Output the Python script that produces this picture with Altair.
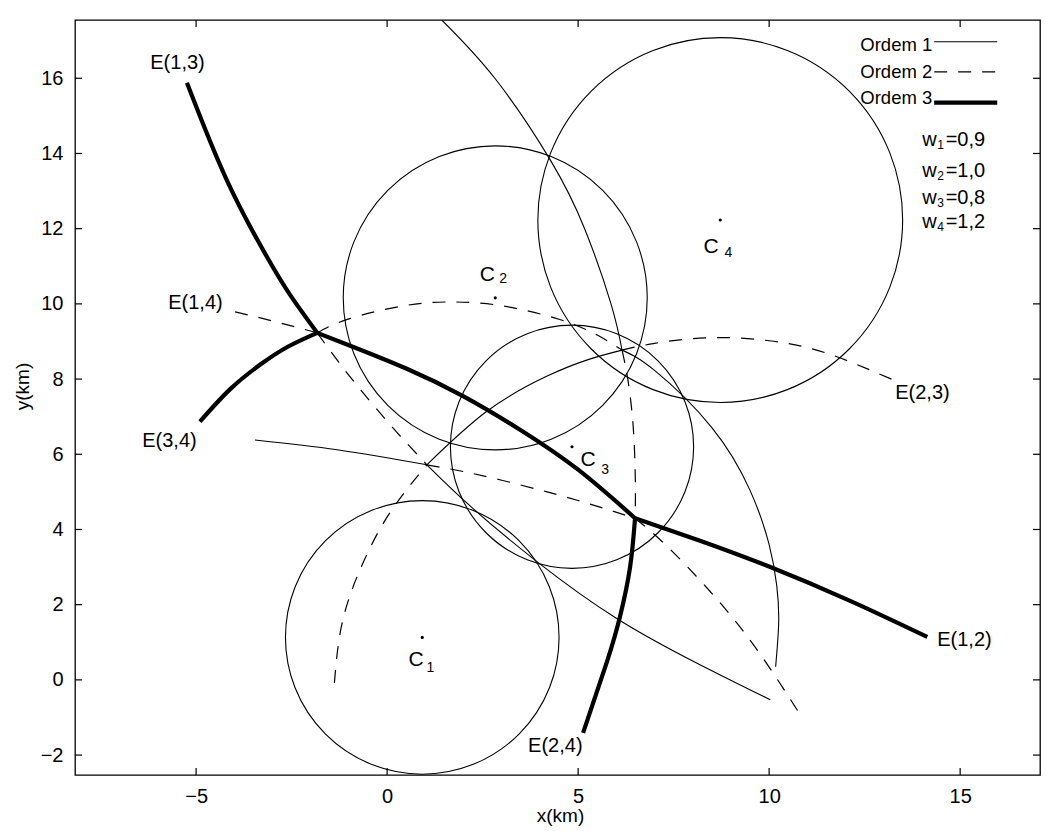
import altair as alt
import pandas as pd

FONT = "Liberation Sans"

# ---------------- data ----------------
centre_x = [0.92, 2.83, 4.84, 8.72]
centre_y = [1.13, 10.16, 6.20, 12.23]
circle_r = [3.6, 4.0, 3.2, 4.8]

# Ordem 3 (thick)
E13_thick_x = [-5.24, -4.20, -3.14, -2.50, -1.83]
E13_thick_y = [15.88, 13.30, 11.24, 10.18, 9.23]
E34_thick_x = [-4.90, -4.10, -3.30, -2.60, -1.83]
E34_thick_y = [6.87, 7.74, 8.40, 8.86, 9.23]
K14_thick_x = [-1.83, -1.0, 0.5, 2.0, 3.5, 5.0, 6.49]
K14_thick_y = [9.23, 8.90, 8.28, 7.54, 6.64, 5.59, 4.30]
E12_thick_x = [6.49, 8.19, 10.03, 12.12, 14.14]
E12_thick_y = [4.30, 3.70, 3.00, 2.10, 1.14]
E24_thick_x = [6.49, 6.36, 6.10, 5.76, 5.13]
E24_thick_y = [4.30, 3.00, 1.70, 0.50, -1.41]

# Ordem 2 (dashed)
E14_dash_x = [-3.98, -2.90, -1.83]
E14_dash_y = [9.79, 9.52, 9.23]
K13_dash_x = [-1.83, -1.0, 0.0, 0.52, 1.04]
K13_dash_y = [9.23, 8.10, 6.88, 6.29, 5.72]
K12_dash_x = [1.04, 2.0, 3.0, 4.0, 5.0, 6.49]
K12_dash_y = [5.72, 5.54, 5.31, 5.05, 4.77, 4.30]
K14_dash_x = [6.49, 7.3, 8.5, 9.7, 10.89]
K14_dash_y = [4.30, 3.58, 2.30, 0.78, -1.05]
K23_dash_low_x = [-1.38, -1.18, -0.68, 0.07, 1.04]
K23_dash_low_y = [-0.08, 1.50, 3.00, 4.44, 5.72]
E23_dash_x = [6.15, 7.0, 8.41, 10.0, 11.5, 13.22]
E23_dash_y = [8.77, 8.95, 9.10, 9.02, 8.69, 7.99]
K24_dash_x = [6.15, 6.30, 6.42, 6.48, 6.50, 6.49]
K24_dash_y = [8.77, 8.00, 7.00, 6.00, 5.00, 4.30]
K34_dash_x = [-1.83, -1.0, 0.5, 1.74, 3.0, 4.5, 5.5, 6.15]
K34_dash_y = [9.23, 9.60, 9.96, 10.05, 9.95, 9.59, 9.17, 8.77]

# Ordem 1 (thin)
K12_thin_x = [-3.46, -1.31, 1.04]
K12_thin_y = [6.38, 6.12, 5.72]
K13_thin_x = [1.04, 2.2, 3.93, 6.0, 8.1, 10.03]
K13_thin_y = [5.72, 4.60, 3.14, 1.64, 0.45, -0.53]
K23_thin_x = [1.04, 2.62, 4.19, 5.30, 6.15]
K23_thin_y = [5.72, 7.15, 8.08, 8.53, 8.77]
K24_thin_x = [1.43, 2.82, 4.27, 5.17, 5.86, 6.15]
K24_thin_y = [17.55, 16.0, 13.83, 12.0, 10.0, 8.77]
K34_thin_x = [6.15, 7.0, 8.5, 9.5, 10.0, 10.2, 10.25, 10.17]
K34_thin_y = [8.77, 8.23, 6.71, 5.04, 3.60, 2.50, 1.53, 0.35]

# edge labels
edge_text = ["E(1,3)", "E(1,4)", "E(3,4)", "E(2,3)", "E(1,2)", "E(2,4)"]
edge_x = [-6.20, -5.73, -6.41, 13.30, 14.40, 3.69]
edge_y = [16.41, 10.03, 6.36, 7.63, 1.06, -1.76]

# centre labels
c_letter_x = [0.76, 2.62, 5.26, 8.48]
c_letter_y = [0.53, 10.77, 5.85, 11.52]
c_sub_text = ["1", "2", "3", "4"]
c_sub_x = [1.13, 3.04, 5.71, 8.93]
c_sub_y = [0.32, 10.66, 5.59, 11.36]

# legend
legend_text = ["Ordem 1", "Ordem 2", "Ordem 3"]
legend_style = ["thin", "dash", "thick"]
legend_text_x = [14.27, 14.27, 14.27]
legend_text_y = [16.89, 16.17, 15.48]
legend_line_x = [14.32, 15.97]
legend_line_y = [16.97, 16.17, 15.35]

w_sub = ["1", "2", "3", "4"]
w_val = ["=0,9", "=1,0", "=0,8", "=1,2"]
w_x = [14.01, 14.01, 14.01, 14.01]
w_sub_x = [14.40, 14.40, 14.40, 14.40]
w_val_x = [14.62, 14.62, 14.62, 14.62]
w_y = [14.36, 13.54, 12.82, 12.18]

x_ticks = [-5, 0, 5, 10, 15]
y_ticks = [-2, 0, 2, 4, 6, 8, 10, 12, 14, 16]

# ---------------- tables ----------------
segments = [
    ("E13_thick", "thick", E13_thick_x, E13_thick_y),
    ("E34_thick", "thick", E34_thick_x, E34_thick_y),
    ("K14_thick", "thick", K14_thick_x, K14_thick_y),
    ("E12_thick", "thick", E12_thick_x, E12_thick_y),
    ("E24_thick", "thick", E24_thick_x, E24_thick_y),
    ("E14_dash", "dash", E14_dash_x, E14_dash_y),
    ("K13_dash", "dash", K13_dash_x, K13_dash_y),
    ("K12_dash", "dash", K12_dash_x, K12_dash_y),
    ("K14_dash", "dash", K14_dash_x, K14_dash_y),
    ("K23_dash_low", "dash", K23_dash_low_x, K23_dash_low_y),
    ("E23_dash", "dash", E23_dash_x, E23_dash_y),
    ("K24_dash", "dash", K24_dash_x, K24_dash_y),
    ("K34_dash", "dash", K34_dash_x, K34_dash_y),
    ("K12_thin", "thin", K12_thin_x, K12_thin_y),
    ("K13_thin", "thin", K13_thin_x, K13_thin_y),
    ("K23_thin", "thin", K23_thin_x, K23_thin_y),
    ("K24_thin", "thin", K24_thin_x, K24_thin_y),
    ("K34_thin", "thin", K34_thin_x, K34_thin_y),
]
rows = []
for name, style, xs_, ys_ in segments:
    for i, (a, b) in enumerate(zip(xs_, ys_)):
        rows.append({"seg": name, "style": style, "i": i, "x": a, "y": b})
for k, st in enumerate(legend_style):
    for i, a in enumerate(legend_line_x):
        rows.append({"seg": "legend" + str(k), "style": st, "i": i, "x": a, "y": legend_line_y[k]})
curves = pd.DataFrame(rows)

circles = pd.DataFrame({"x": centre_x, "y": centre_y, "r": circle_r})
edges = pd.DataFrame({"t": edge_text, "x": edge_x, "y": edge_y})
cletters = pd.DataFrame({"t": ["C"] * 4, "x": c_letter_x, "y": c_letter_y})
csubs = pd.DataFrame({"t": c_sub_text, "x": c_sub_x, "y": c_sub_y})
legtext = pd.DataFrame({"t": legend_text, "x": legend_text_x, "y": legend_text_y})
wl = pd.DataFrame({"t": ["w"] * 4, "x": w_x, "y": w_y})
ws = pd.DataFrame({"t": w_sub, "x": w_sub_x, "y": [v - 0.14 for v in w_y]})
wv = pd.DataFrame({"t": w_val, "x": w_val_x, "y": w_y})
xt = pd.DataFrame({"x": x_ticks})
yt = pd.DataFrame({"y": y_ticks})

# ---------------- scales / axes ----------------
xs = alt.Scale(domain=[-8.17, 17.09], nice=False, zero=False)
ys = alt.Scale(domain=[-2.53, 17.55], nice=False, zero=False)
x_axis = alt.Axis(values=x_ticks, ticks=False, tickSize=0, domain=False, grid=False,
                  labelFontSize=20, labelFont=FONT, labelColor="black", labelPadding=11,
                  titleFontSize=19, titleFont=FONT, titleFontWeight="normal", titleColor="black",
                  titleX=485, titleY=40, titleBaseline="middle")
y_axis = alt.Axis(values=y_ticks, ticks=False, tickSize=0, domain=False, grid=False,
                  labelFontSize=20, labelFont=FONT, labelColor="black", labelPadding=12,
                  titleFontSize=19, titleFont=FONT, titleFontWeight="normal", titleColor="black",
                  titleX=-53, titleY=366, titleBaseline="middle")


def X(f="x"):
    return alt.X(f, type="quantitative", scale=xs, axis=x_axis, title="x(km)")


def Y(f="y"):
    return alt.Y(f, type="quantitative", scale=ys, axis=y_axis, title="y(km)")


base = alt.Chart(curves).encode(x=X(), y=Y(), detail="seg:N", order="i:Q")
thin = base.transform_filter(alt.datum.style == "thin").mark_line(
    color="black", strokeWidth=1.1, interpolate="natural", clip=True)
dash = base.transform_filter(alt.datum.style == "dash").mark_line(
    color="black", strokeWidth=1.2, strokeDash=[13, 11], interpolate="natural", clip=True)
thick = base.transform_filter(alt.datum.style == "thick").mark_line(
    color="black", strokeWidth=4.2, interpolate="natural", clip=True)

circ = alt.Chart(circles).mark_arc(filled=False, stroke="black", strokeWidth=1.1,
                                   theta=0, theta2=6.2832, clip=True).encode(
    x=X(), y=Y(),
    radius=alt.Radius("r:Q", stack=False,
                      scale=alt.Scale(type="linear", domain=[0, 1], range=[0, 38], zero=True)))

dots = alt.Chart(circles).mark_point(filled=True, size=10, color="black", opacity=1).encode(x=X(), y=Y())


def txt(df, size, align="left"):
    return alt.Chart(df).mark_text(font=FONT, fontSize=size, align=align, baseline="middle",
                                   color="black").encode(x=X(), y=Y(), text="t:N")


edge_layer = txt(edges, 20)
cl_layer = txt(cletters, 21, "center")
cs_layer = txt(csubs, 14, "center")
leg_layer = txt(legtext, 18.5, "right")
wl_layer = txt(wl, 20)
ws_layer = txt(ws, 12)
wv_layer = txt(wv, 20)

tick_b = alt.Chart(xt).mark_rule(color="black", strokeWidth=1.2).encode(
    x=X(), y=alt.value(755), y2=alt.value(748))
tick_t = alt.Chart(xt).mark_rule(color="black", strokeWidth=1.2).encode(
    x=X(), y=alt.value(0), y2=alt.value(7))
tick_l = alt.Chart(yt).mark_rule(color="black", strokeWidth=1.2).encode(
    y=Y(), x=alt.value(0), x2=alt.value(7))
tick_r = alt.Chart(yt).mark_rule(color="black", strokeWidth=1.2).encode(
    y=Y(), x=alt.value(965), x2=alt.value(958))

chart = alt.layer(
    circ, thin, dash, thick, dots, edge_layer, cl_layer, cs_layer, leg_layer,
    wl_layer, ws_layer, wv_layer, tick_b, tick_t, tick_l, tick_r
).properties(
    width=965, height=755, autosize="none",
    padding={"left": 75, "top": 20, "right": 6, "bottom": 56},
    background="white"
).configure_view(stroke="black", strokeWidth=1.3)

chart.save("out.html", embed_options={"renderer": "svg", "actions": False})
